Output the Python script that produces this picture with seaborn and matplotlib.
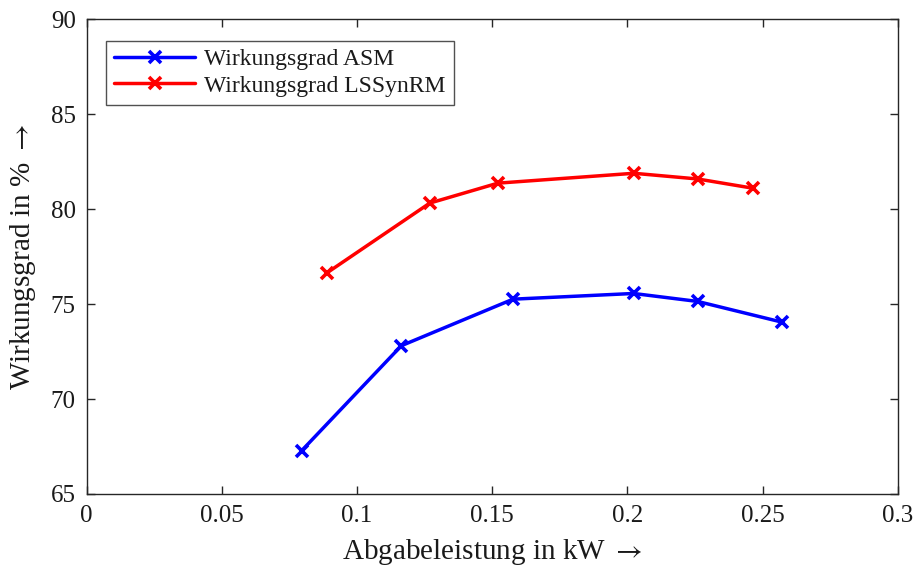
import matplotlib
matplotlib.use("Agg")
import matplotlib.pyplot as plt
import seaborn as sns
import pandas as pd

# Measured efficiency over output power
p_asm = [0.0795, 0.1164, 0.1577, 0.2023, 0.2260, 0.2572]
eta_asm = [67.28, 72.81, 75.26, 75.56, 75.14, 74.05]
p_lss = [0.0887, 0.1269, 0.1521, 0.2024, 0.2260, 0.2466]
eta_lss = [76.63, 80.32, 81.37, 81.89, 81.59, 81.10]

series_names = ["Wirkungsgrad ASM", "Wirkungsgrad LSSynRM"]
x_ticks = [0, 0.05, 0.1, 0.15, 0.2, 0.25, 0.3]
x_ticklabels = ["0", "0.05", "0.1", "0.15", "0.2", "0.25", "0.3"]
y_ticks = [65, 70, 75, 80, 85, 90]

df = pd.concat([
    pd.DataFrame({"P": p_asm, "eta": eta_asm, "Serie": series_names[0]}),
    pd.DataFrame({"P": p_lss, "eta": eta_lss, "Serie": series_names[1]}),
], ignore_index=True)

sns.set_theme(style="ticks")
plt.rcParams["font.family"] = ["Liberation Serif", "DejaVu Serif"]
plt.rcParams["mathtext.fontset"] = "stix"

fig = plt.figure(figsize=(9.16, 5.74), dpi=100)
ax = fig.add_axes([0.0947, 0.1394, 0.8853, 0.827])

sns.lineplot(data=df, x="P", y="eta", hue="Serie", hue_order=series_names,
             palette=["#0000ff", "#ff0000"], linewidth=2.5,
             sort=False, estimator=None, ax=ax)

# cross markers on every measured point
for line in ax.get_lines():
    line.set_marker("x")
    line.set_markeredgewidth(2.6)
    line.set_markersize(9)
    line.set_markeredgecolor(line.get_color())

ax.set_xlim(0, 0.3)
ax.set_ylim(65, 90)
ax.set_xticks(x_ticks)
ax.set_xticklabels(x_ticklabels)
ax.set_yticks(y_ticks)
ax.tick_params(direction="in", length=6, width=1, top=True, right=True,
               labelsize=18, colors="#262626", labelcolor="#1a1a1a", pad=8)
for s in ax.spines.values():
    s.set_color("#262626")
    s.set_linewidth(1)

ax.set_xlabel(r"Abgabeleistung in kW $\rightarrow$", fontsize=21, labelpad=7,
              color="#1a1a1a")
ax.set_ylabel(r"Wirkungsgrad in % $\rightarrow$", fontsize=21, labelpad=9,
              color="#1a1a1a")

leg = ax.legend(loc="upper left", bbox_to_anchor=(0.024, 0.955), fontsize=17,
                frameon=True, fancybox=False, edgecolor="#262626",
                handlelength=3.4, borderpad=0.35, labelspacing=0.2,
                handletextpad=0.4, borderaxespad=0)
leg.get_frame().set_linewidth(1)
for t in leg.get_texts():
    t.set_color("#1a1a1a")
for h in leg.get_lines():
    h.set_marker("x")
    h.set_markeredgewidth(2.6)
    h.set_markersize(9)

fig.savefig("out.png", dpi=100)
